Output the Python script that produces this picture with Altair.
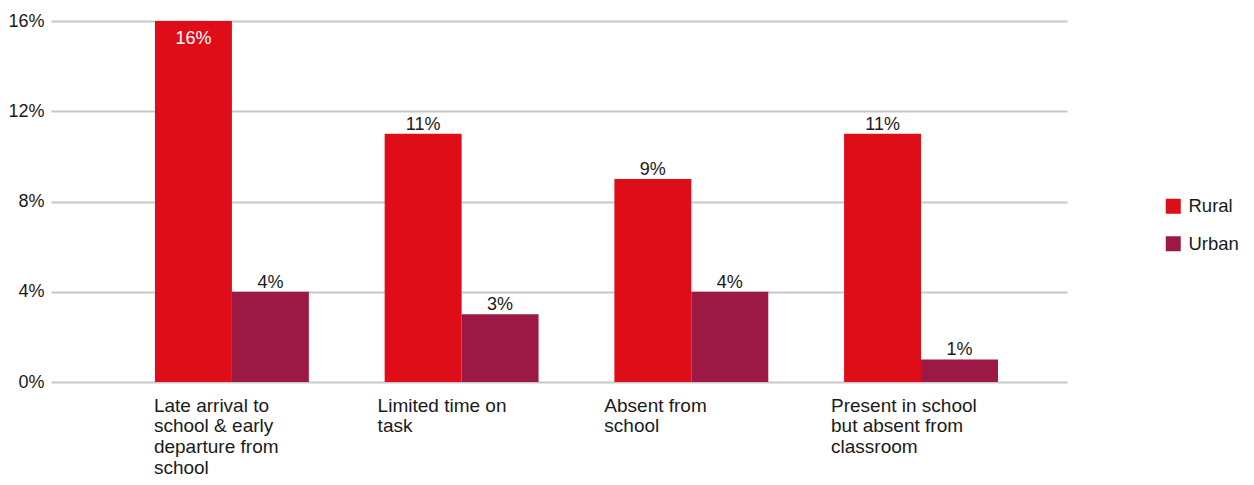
import altair as alt
import pandas as pd

categories = [
    "Late arrival to|school & early|departure from|school",
    "Limited time on|task",
    "Absent from|school",
    "Present in school|but absent from|classroom",
]
series = ["Rural", "Urban"]
rural = [16, 11, 9, 11]
urban = [4, 3, 4, 1]
y_ticks = [0, 4, 8, 12, 16]
colors = ["#DE0D18", "#9B1944"]

rows = []
for c, r, u in zip(categories, rural, urban):
    rows.append({"category": c, "series": "Rural", "value": r})
    rows.append({"category": c, "series": "Urban", "value": u})
df = pd.DataFrame(rows)

FONT = "Liberation Sans"

label_offset = {
    "condition": [
        {"test": f"datum.value == '{categories[1]}'", "value": -84},
        {"test": f"datum.value == '{categories[2]}'", "value": -87},
        {"test": f"datum.value == '{categories[3]}'", "value": -90},
    ],
    "value": -78,
}

x_enc = alt.X(
    "category:N",
    sort=categories,
    scale=alt.Scale(paddingInner=0.33, paddingOuter=0.3765, align=0.601),
    axis=alt.Axis(
        title=None,
        labelExpr="split(datum.label, '|')",
        labelAngle=0,
        labelAlign="left",
        labelBaseline="top",
        labelOffset=label_offset,
        labelPadding=14,
        labelLineHeight=20.7,
        labelFontSize=19,
        labelColor="#1a1a1a",
        labelLimit=0,
        labelOverlap=False,
        ticks=False,
        domain=False,
        grid=False,
    ),
)
xo_enc = alt.XOffset("series:N", sort=series, scale=alt.Scale(paddingInner=0, paddingOuter=0))
y_enc = alt.Y(
    "value:Q",
    scale=alt.Scale(domain=[0, 16], nice=False),
    axis=alt.Axis(
        title=None,
        values=y_ticks,
        labelExpr="datum.value + '%'",
        labelFontSize=18,
        labelColor="#1a1a1a",
        labelPadding=7,
        ticks=False,
        domain=False,
        gridColor="#c8c8c8",
        gridWidth=2,
    ),
)

bars = alt.Chart(df).mark_bar().encode(
    x=x_enc,
    xOffset=xo_enc,
    y=y_enc,
    color=alt.Color(
        "series:N",
        sort=series,
        scale=alt.Scale(domain=series, range=colors),
        legend=alt.Legend(
            title=None,
            orient="none",
            legendX=1113,
            legendY=176,
            symbolType="square",
            symbolSize=225,
            symbolStrokeWidth=0,
            labelFontSize=18.5,
            labelColor="#1a1a1a",
            labelOffset=6,
            rowPadding=18.5,
        ),
    ),
)

base_text = alt.Chart(df).encode(
    x=alt.X("category:N", sort=categories),
    xOffset=alt.XOffset("series:N", sort=series),
    y=alt.Y("value:Q"),
    text=alt.Text("label:N"),
).transform_calculate(label="datum.value + '%'")

above = base_text.transform_filter("datum.value < 15").mark_text(
    fontSize=18, color="#1a1a1a", baseline="alphabetic", dy=-4, font=FONT
)
inside = base_text.transform_filter("datum.value >= 15").mark_text(
    fontSize=18, color="white", baseline="top", dy=9, font=FONT
)

chart = (
    alt.layer(bars, above, inside)
    .properties(
        width=1016,
        height=361,
        padding={"left": 43, "top": 13, "right": 179, "bottom": 95},
        autosize=alt.AutoSizeParams(type="none"),
    )
    .configure(font=FONT)
    .configure_view(stroke=None)
)

chart.save("out.html", embed_options={"renderer": "svg", "actions": False})
